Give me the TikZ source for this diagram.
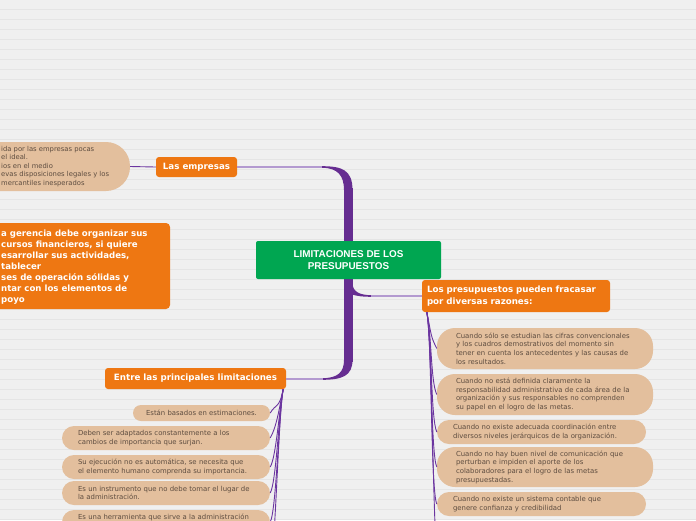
\documentclass[tikz,border=0pt]{standalone}
\usepackage{fontspec}
\setmainfont{DejaVu Sans}
\newfontfamily\arialfont{Liberation Sans}
\usetikzlibrary{calc}
\definecolor{bgc}{HTML}{F0F0F0}
\definecolor{rulec}{HTML}{E5E5E5}
\definecolor{orng}{HTML}{EE7712}
\definecolor{grn}{HTML}{00A651}
\definecolor{beige}{HTML}{E3BF9D}
\definecolor{txtc}{HTML}{5E4D40}
\definecolor{purp}{HTML}{662D91}
\definecolor{lpurp}{HTML}{B39AD0}
\definecolor{lnk}{HTML}{6B35A0}
\tikzset{
  central/.style={fill=grn, rounded corners=2pt, minimum width=185pt, minimum height=38pt,
    text=white, font=\arialfont\bfseries\fontsize{9.9}{12}\selectfont, align=center, inner sep=0pt},
  topic/.style={fill=orng, rounded corners=3pt, text=white,
    font=\bfseries\fontsize{8.7}{11.2}\selectfont, inner sep=0pt},
  pill/.style={fill=beige, rounded corners=12pt, text=txtc,
    font=\fontsize{6.9}{8.7}\selectfont, align=left, inner ysep=0pt},
  ptext/.style={text=txtc, font=\fontsize{6.8}{8.6}\selectfont, align=left, inner sep=0pt},
  otext/.style={text=white, font=\bfseries\fontsize{8.6}{11}\selectfont, align=left, inner sep=0pt},
  link/.style={draw=lnk, line width=0.9pt},
  thinlink/.style={draw=lpurp, line width=1.6pt},
}
\begin{document}
\begin{tikzpicture}[x=1pt,y=-1pt]
\useasboundingbox (0,0) rectangle (696,520);
\clip (0,0) rectangle (696,520);
\fill[bgc] (0,0) rectangle (696,520);
\foreach \i in {0,...,51} \draw[rulec, line width=0.8pt] (0,{9.5+10*\i}) -- (696,{9.5+10*\i});

% main topics
\node[topic, minimum width=81pt, minimum height=20pt] (emp) at (196.5,167) {Las empresas};
\node[topic, minimum width=181pt, minimum height=21pt] (entre) at (195.5,378.5) {Entre las principales limitaciones};
\node[topic, minimum height=32pt, text width=178pt, inner xsep=5pt, align=left] (pres) at (516,296)
  {Los presupuestos pueden fracasar\\por diversas razones:};

% trunk
\draw[thinlink] (emp.east) -- (323,167);
\fill[purp] (322,166.2) .. controls (342,166.2) and (352.5,170) .. (352.5,190)
  -- (344,190) .. controls (344,176) and (338,167.8) .. (322,167.8) -- cycle;
\fill[purp] (344,188) rectangle (352.5,362);
\fill[purp] (344,360) .. controls (344,372) and (338,378.2) .. (322,378.2)
  -- (322,379.8) .. controls (342,379.8) and (352.5,376) .. (352.5,360) -- cycle;
\draw[thinlink] (323,379) -- (entre.east |- 0,379);
\fill[purp] (344,279) -- (352.5,279) -- (352.5,283) .. controls (352.5,292) and (360,295.2) .. (372,295.2)
  -- (372,296.8) .. controls (354,296.8) and (344,294) .. (344,284) -- cycle;
\draw[thinlink] (371,296) -- (pres.west);

\node[central] (root) at (348.5,260) {LIMITACIONES DE LOS\\PRESUPUESTOS};

% top-left pill (cut by the edge)
\node[fill=beige, rounded corners=24pt, minimum width=200pt, minimum height=49pt, inner sep=0pt] (empbox) at (30,166.5) {};
\node[ptext, anchor=west] (emptxt) at (1,166.5)
  {ida por las empresas pocas\\el ideal.\\ios en el medio\\evas disposiciones legales y los\\mercantiles inesperados};
\draw[link] (empbox.east) -- (emp.west);

% big orange left box (cut by the edge)
\node[fill=orng, rounded corners=4pt, minimum width=220pt, minimum height=86pt, inner sep=0pt] (gerbox) at (60,266) {};
\node[otext, anchor=west] (gertxt) at (1,267)
  {a gerencia debe organizar sus\\cursos financieros, si quiere\\esarrollar sus actividades,\\tablecer\\ses de operación sólidas y\\ntar con los elementos de\\poyo};

% right children
\node[pill, rounded corners=18pt, minimum height=41pt, text width=178pt, inner xsep=19pt] (r1) at (545,348.5)
  {Cuando sólo se estudian las cifras convencionales\\y los cuadros demostrativos del momento sin\\tener en cuenta los antecedentes y las causas de\\los resultados.};
\node[pill, rounded corners=18pt, minimum height=41pt, text width=178pt, inner xsep=19pt] (r2) at (545,394.5)
  {Cuando no está definida claramente la\\responsabilidad administrativa de cada área de la\\organización y sus responsables no comprenden\\su papel en el logro de las metas.};
\node[pill, minimum height=24pt, text width=177pt, inner xsep=16pt] (r3) at (541.5,432)
  {Cuando no existe adecuada coordinación entre\\diversos niveles jerárquicos de la organización.};
\node[pill, rounded corners=18pt, minimum height=40pt, text width=178pt, inner xsep=19pt] (r4) at (545,467)
  {Cuando no hay buen nivel de comunicación que\\perturban e impiden el aporte de los\\colaboradores para el logro de las metas\\presupuestadas.};
\node[pill, minimum height=24pt, text width=177pt, inner xsep=16pt] (r5) at (541.5,504)
  {Cuando no existe un sistema contable que\\genere confianza y credibilidad};
\coordinate (rmore) at (437,560);
\coordinate (rs) at ($(pres.south west)+(5,0)$);
\foreach \c in {r1,r2,r3,r4,r5}
  \draw[link] (rs) .. controls ($(rs)+(5,25)$) and ($(\c.west)+(-6,-12)$) .. (\c.west);
\draw[link] (rs) .. controls ($(rs)+(5,25)$) and ($(rmore)+(-4,-40)$) .. (rmore);

% left children
\node[pill, rounded corners=8pt, minimum height=16pt, minimum width=137pt, align=center] (l1) at (201.5,413)
  {Están basados en estimaciones.};
\node[pill, minimum height=24pt, text width=176pt, inner xsep=16pt] (l2) at (166,438)
  {Deben ser adaptados constantemente a los\\cambios de importancia que surjan.};
\node[pill, minimum height=24pt, text width=176pt, inner xsep=16pt] (l3) at (166,467)
  {Su ejecución no es automática, se necesita que\\el elemento humano comprenda su importancia.};
\node[pill, minimum height=24pt, text width=176pt, inner xsep=16pt] (l4) at (166,493)
  {Es un instrumento que no debe tomar el lugar de\\la administración.};
\node[pill, minimum height=24pt, text width=176pt, inner xsep=16pt, text height=8pt, text depth=13pt] (l5) at (166,522)
  {Es una herramienta que sirve a la administración};
\coordinate (lmore) at (272,560);
\coordinate (ls) at ($(entre.south east)+(-3,0)$);
\foreach \c in {l1,l2,l3,l4,l5}
  \draw[link] (ls) .. controls ($(ls)+(-4,20)$) and ($(\c.east)+(6,-10)$) .. (\c.east);
\draw[link] (ls) .. controls ($(ls)+(-4,20)$) and ($(lmore)+(4,-40)$) .. (lmore);
\end{tikzpicture}
\end{document}
